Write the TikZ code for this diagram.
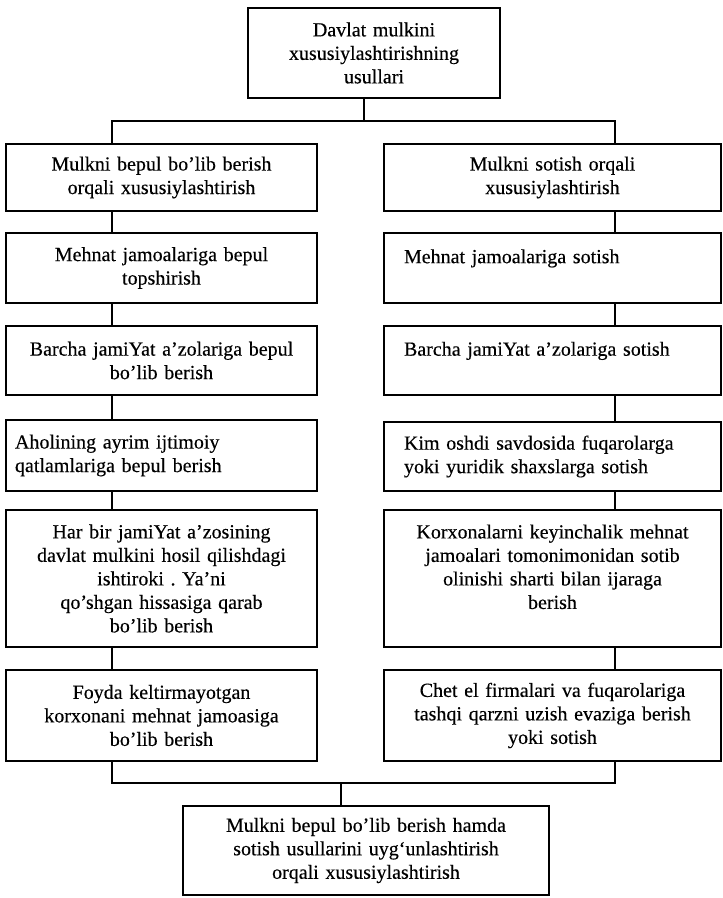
\documentclass[tikz,border=0pt]{standalone}
\usepackage{fontspec}
\setmainfont{Liberation Serif}[UprightFeatures={FakeBold=0.3}]
\frenchspacing
\begin{document}
\begin{tikzpicture}[x=1pt,y=-1pt,
  box/.style={draw, line width=1.8pt, inner xsep=9pt, inner ysep=0pt,
    font=\fontsize{20}{23.5}\selectfont, align=center},
  lbox/.style={box, text width=293pt, minimum width=311pt},
  rbox/.style={box, inner xsep=20pt, text width=297pt, minimum width=337pt},
  conn/.style={line width=1.8pt}]
\useasboundingbox (0,0) rectangle (723,898);
% top and bottom
\node[box, text width=234pt, minimum width=252pt, minimum height=90pt] (T) at (374,53)
  {Davlat mulkini\\xususiylashtirishning\\usullari};
\node[box, text width=348pt, minimum width=366pt, minimum height=89pt] (B) at (366,850.5)
  {Mulkni bepul bo’lib berish hamda\\sotish usullarini uyg‘unlashtirish\\orqali xususiylashtirish};
% left column
\node[lbox, minimum height=67pt] (L1) at (161.5,177.5) {Mulkni bepul bo’lib berish\\orqali xususiylashtirish};
\node[lbox, minimum height=70pt] (L2) at (161.5,268) {Mehnat jamoalariga bepul\\topshirish};
\node[lbox, minimum height=69pt] (L3) at (161.5,360.5) {Barcha jamiYat a’zolariga bepul\\bo’lib berish};
\node[lbox, minimum height=71pt, align=left] (L4) at (161.5,455.5) {Aholining ayrim ijtimoiy\\qatlamlariga bepul berish};
\node[lbox, minimum height=137pt] (L5) at (161.5,578.5) {Har bir jamiYat a’zosining\\davlat mulkini hosil qilishdagi\\ishtiroki . Ya’ni\\qo’shgan hissasiga qarab\\bo’lib berish};
\node[lbox, minimum height=91pt] (L6) at (161.5,715.5) {Foyda keltirmayotgan\\korxonani mehnat jamoasiga\\bo’lib berish};
% right column
\node[rbox, minimum height=67pt] (R1) at (552.5,177.5) {Mulkni sotish orqali\\xususiylashtirish};
\node[rbox, minimum height=70pt, align=left] (R2) at (552.5,268) {Mehnat jamoalariga sotish\\\mbox{}};
\node[rbox, minimum height=69pt, align=left] (R3) at (552.5,360.5) {Barcha jamiYat a’zolariga sotish\\\mbox{}};
\node[rbox, minimum height=69pt, align=left] (R4) at (552.5,456.5) {Kim oshdi savdosida fuqarolarga\\yoki yuridik shaxslarga sotish};
\node[rbox, minimum height=137pt] (R5) at (552.5,578.5) {Korxonalarni keyinchalik mehnat\\jamoalari tomonimonidan sotib\\olinishi sharti bilan ijaraga\\berish\\\mbox{}};
\node[rbox, minimum height=91pt] (R6) at (552.5,715.5) {Chet el firmalari va fuqarolariga\\tashqi qarzni uzish evaziga berish\\yoki sotish};
% junction coordinates
\coordinate (jt) at (364,121);
\coordinate (cl) at (112,121);
\coordinate (cr) at (615,121);
\coordinate (bl) at (112,783);
\coordinate (br) at (615,783);
\coordinate (bc) at (341,783);
% connectors top
\draw[conn] (T.south -| jt) -- (jt);
\draw[conn] (cl |- L1.north) -- (cl) -- (cr) -- (cr |- R1.north);
% columns
\foreach \a/\b in {L1/L2,L2/L3,L3/L4,L4/L5,L5/L6}
  \draw[conn] (cl |- \a.south) -- (cl |- \b.north);
\foreach \a/\b in {R1/R2,R2/R3,R3/R4,R4/R5,R5/R6}
  \draw[conn] (cr |- \a.south) -- (cr |- \b.north);
% bottom
\draw[conn] (bl |- L6.south) -- (bl) -- (br) -- (br |- R6.south);
\draw[conn] (bc) -- (bc |- B.north);
\end{tikzpicture}
\end{document}
